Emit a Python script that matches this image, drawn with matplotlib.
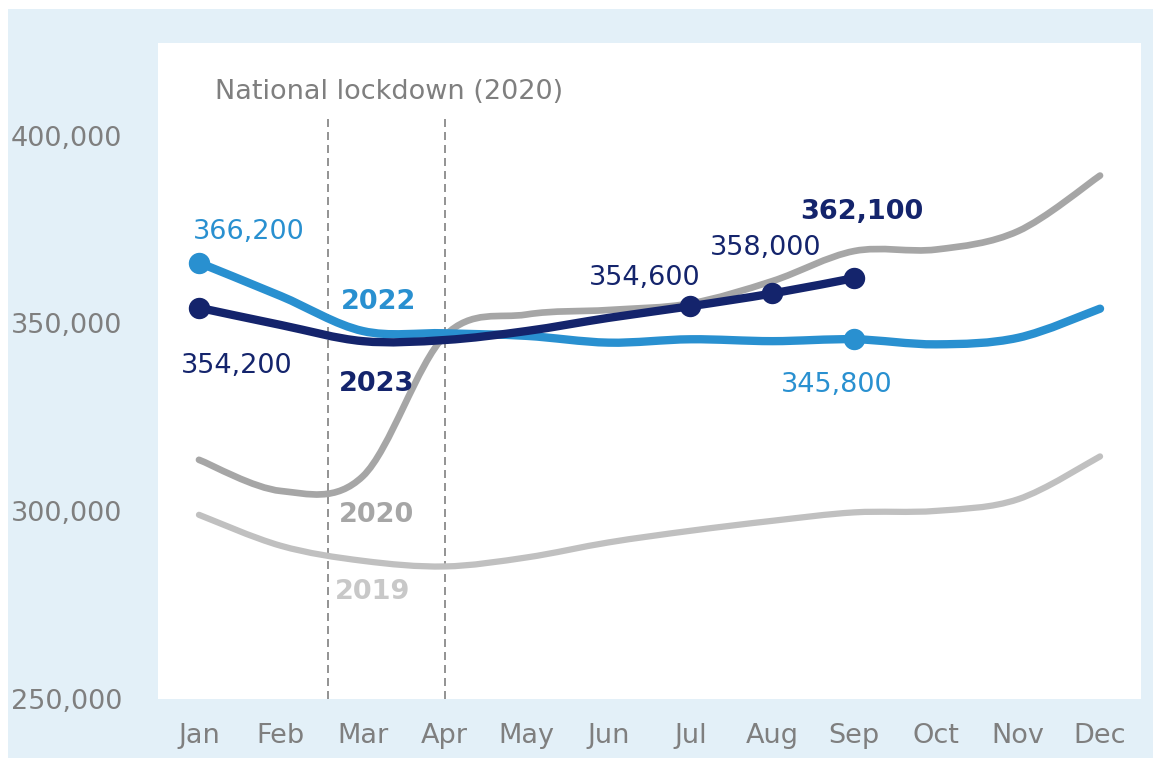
import numpy as np
import matplotlib
matplotlib.use("Agg")
import matplotlib.pyplot as plt
from matplotlib.path import Path
from matplotlib.patches import PathPatch, Rectangle
from matplotlib.ticker import FuncFormatter

# ---- data ----
months = ["Jan", "Feb", "Mar", "Apr", "May", "Jun", "Jul", "Aug", "Sep", "Oct", "Nov", "Dec"]
y2019 = [299050, 290800, 286800, 285300, 287700, 291700, 294800, 297450, 299700, 300100, 303200, 314600]
y2020 = [313700, 305400, 309300, 346700, 352400, 353600, 355350, 361300, 369300, 369700, 374600, 389400]
y2022 = [366200, 357300, 348000, 347400, 346700, 344900, 345800, 345300, 345800, 344450, 346200, 353950]
y2023 = [354200, 349600, 345300, 345600, 348000, 351500, 354600, 358000, 362100]
yticks = [250000, 300000, 350000, 400000]
lockdown_start, lockdown_end = 1.57, 3.0

C19 = "#c0c0c0"
C20 = "#a6a6a6"
C22 = "#2990d0"
C23 = "#14246c"
GREY_TXT = "#7f7f7f"
BG = "#e3f0f8"

fig = plt.figure(figsize=(11.53, 7.58), dpi=100, facecolor="white")
bg = fig.add_axes([8 / 1153, 0, 1 - 8 / 1153, (758 - 9) / 758], zorder=-5)
bg.set_facecolor(BG)
bg.set_xticks([])
bg.set_yticks([])
for s in bg.spines.values():
    s.set_visible(False)

ax = fig.add_axes([158 / 1153, 1 - 699 / 758, (1141 - 158) / 1153, (699 - 43) / 758], zorder=1)
ax.set_facecolor("white")
ax.set_xlim(-0.5, 11.5)
ax.set_ylim(250000, 424700)
for s in ax.spines.values():
    s.set_visible(False)


def smooth_path(xs, ys):
    pts = np.column_stack([xs, ys]).astype(float)
    n = len(pts)
    verts = [pts[0]]
    codes = [Path.MOVETO]
    for i in range(n - 1):
        p0 = pts[i - 1] if i > 0 else pts[i]
        p1 = pts[i]
        p2 = pts[i + 1]
        p3 = pts[i + 2] if i + 2 < n else pts[i + 1]
        c1 = p1 + (p2 - p0) / 6.0
        c2 = p2 - (p3 - p1) / 6.0
        verts += [c1, c2, p2]
        codes += [Path.CURVE4] * 3
    return Path(verts, codes)


def draw(vals, color, lw, z):
    xs = np.arange(len(vals))
    patch = PathPatch(smooth_path(xs, vals), facecolor="none", edgecolor=color,
                      lw=lw, capstyle="round", joinstyle="round", zorder=z)
    ax.add_patch(patch)


draw(y2019, C19, 4.5, 3)
draw(y2020, C20, 4.8, 4)
draw(y2022, C22, 6.0, 5)
draw(y2023, C23, 6.0, 6)

# markers
ax.plot([0, 8], [y2022[0], y2022[8]], "o", color=C22, ms=14.4, zorder=7)
ax.plot([0, 6, 7, 8], [y2023[0], y2023[6], y2023[7], y2023[8]], "o", color=C23, ms=14.4, zorder=8)

# lockdown lines
for xv in (lockdown_start, lockdown_end):
    ax.axvline(xv, ymin=0, ymax=0.89, color="#808080", lw=1.2,
               linestyle=(0, (4.8, 3.0)), zorder=2)

fs = 19.5
ax.text((lockdown_start + lockdown_end) / 2 + 0.04, 409800, "National lockdown (2020)",
        color=GREY_TXT, fontsize=fs, ha="center", va="baseline")

labels = [
    (0.61, 372380, "366,200", C22, "normal"),
    (0.46, 336920, "354,200", C23, "normal"),
    (2.19, 353940, "2022", C22, "bold"),
    (2.17, 332030, "2023", C23, "bold"),
    (2.17, 297190, "2020", C20, "bold"),
    (2.12, 276630, "2019", "#c8c8c8", "bold"),
    (5.44, 360140, "354,600", C23, "normal"),
    (6.92, 368120, "358,000", C23, "normal"),
    (8.09, 377700, "362,100", C23, "bold"),
    (7.79, 331760, "345,800", C22, "normal"),
]
for x, y, t, c, w in labels:
    ax.text(x, y, t, color=c, fontsize=fs, fontweight=w, ha="center", va="baseline", zorder=9)

ax.set_xticks(range(12))
ax.set_xticklabels(months)
ax.set_yticks(yticks)
ax.yaxis.set_major_formatter(FuncFormatter(lambda v, p: f"{int(v):,}"))
ax.tick_params(axis="x", length=0, pad=17, labelsize=fs, labelcolor=GREY_TXT)
ax.tick_params(axis="y", length=0, pad=26, labelsize=fs, labelcolor=GREY_TXT)

fig.savefig("out.png", dpi=100, facecolor="white")
